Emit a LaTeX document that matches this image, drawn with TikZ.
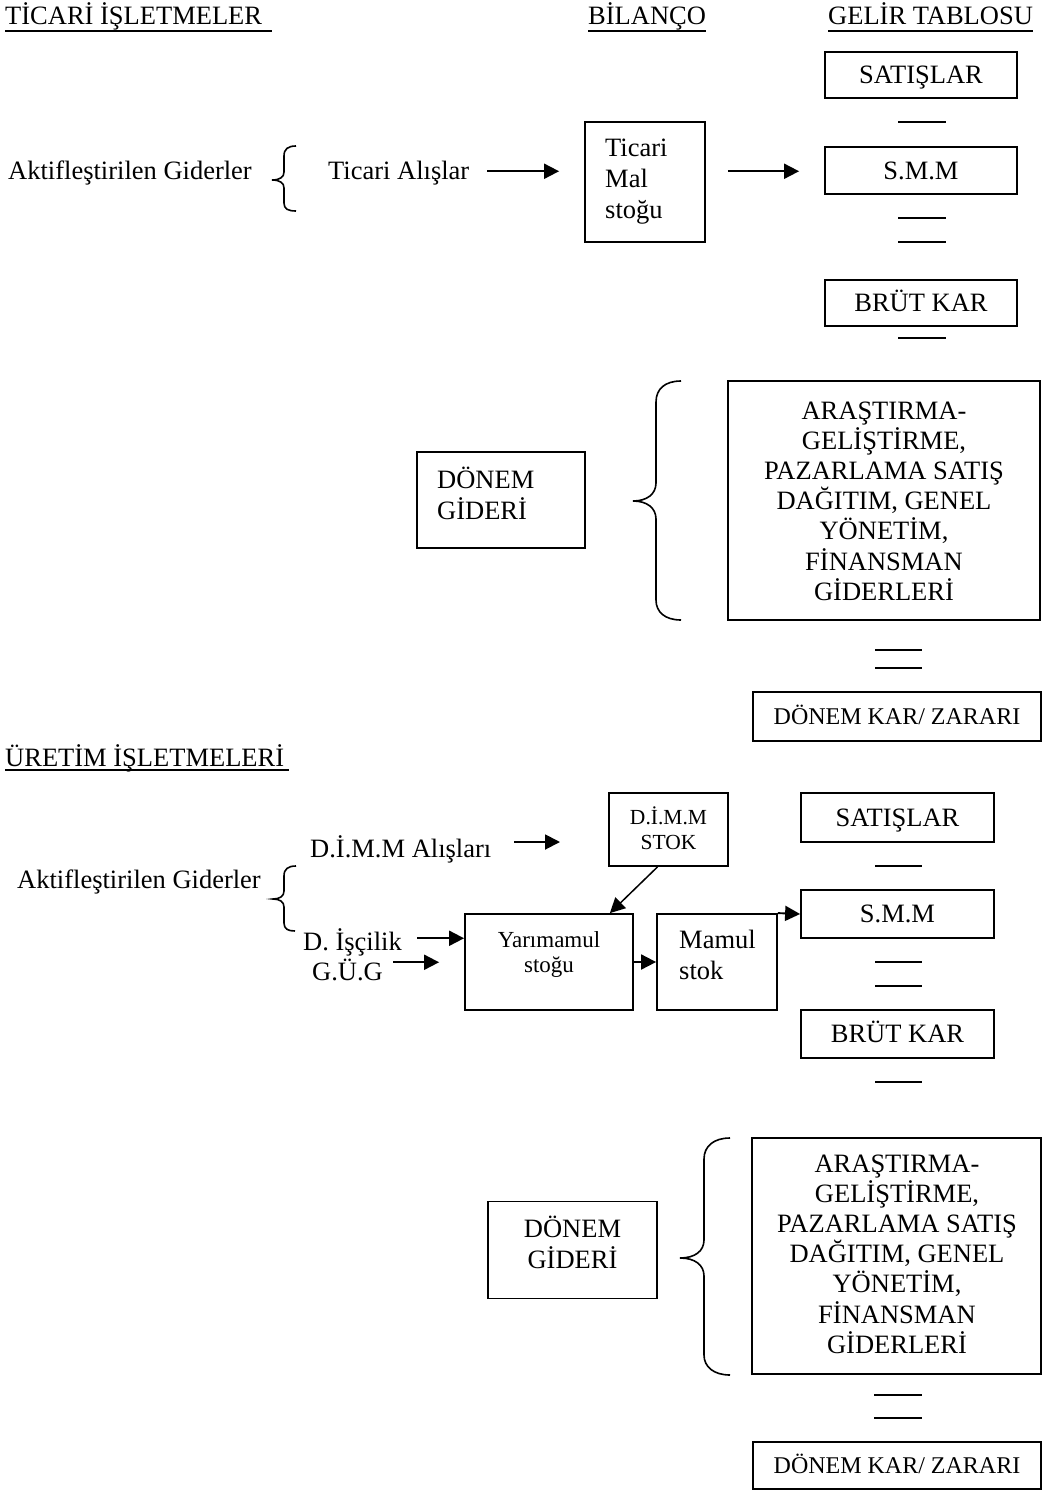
\documentclass[tikz,border=0pt]{standalone}
\usepackage{fontspec}
\setmainfont{Liberation Serif}
\usetikzlibrary{arrows.meta,calc}
% stacked lines: left aligned / centred, baseline at the first line
\newcommand\linesL[1]{\vtop{\halign{##\hfil\cr #1\crcr}}}
\newcommand\linesC[1]{\vtop{\halign{\hfil##\hfil\cr #1\crcr}}}
\begin{document}
\begin{tikzpicture}[x=1pt,y=-1pt,
  big/.style={font=\fontsize{26.5}{31}\selectfont},
  lbl/.style={big, inner sep=0pt, anchor=base west, text height=17.5pt, text depth=0pt},
  para/.style={big, inner sep=0pt, anchor=base west},
  cpara/.style={big, inner sep=0pt, anchor=base},
  box/.style={draw, line width=1.8pt, inner sep=0pt},
  tbox/.style={box, big, text height=17.5pt, text depth=0pt},
  small/.style={font=\fontsize{24}{28}\selectfont, text height=16pt},
  sized/.style 2 args={minimum width=#1pt, minimum height=#2pt},
  arr/.style={line width=1.9pt, -{Triangle[length=15pt,width=15pt]}},
  rule/.style={line width=1.8pt},
  brace/.style={line width=1.6pt},
  uline/.style={line width=1.8pt}
]
\fill[white] (0,0) rectangle (1043,1490);
\useasboundingbox (0,0) rectangle (1043,1490);

% ---------- headings ----------
\node[lbl] (h1) at (5,25) {TİCARİ İŞLETMELER};
\node[lbl] (h2) at (588,25) {BİLANÇO};
\node[lbl] (h3) at (828,25) {GELİR TABLOSU};
\draw[uline] ([yshift=-6pt]h1.base west) -- ([xshift=10pt,yshift=-6pt]h1.base east);
\draw[uline] ([yshift=-6pt]h2.base west) -- ([yshift=-6pt]h2.base east);
\draw[uline] ([yshift=-6pt]h3.base west) -- ([yshift=-6pt]h3.base east);

% ---------- trading firms ----------
\node[tbox, sized={192}{46}] (sat1) at (921,75) {SATIŞLAR};
\node[tbox, sized={192}{47}] (smm1) at (921,170.5) {S.M.M};
\node[tbox, sized={192}{46}] (brut1) at (921,303) {BRÜT KAR};
\draw[rule] (898,122) -- (946,122);
\draw[rule] (898,218) -- (946,218);
\draw[rule] (898,242) -- (946,242);
\draw[rule] (898,338) -- (946,338);

\node[box, sized={120}{120}] (mal1) at (645,182) {};
\node[para] (mal1t) at (605,157) {\linesL{Ticari\cr Mal\cr stoğu}};

\node[lbl] (akt1) at (8,180) {Aktifleştirilen Giderler};
\draw[brace] (296,146) .. controls (288,146) and (284,149) .. (284,156) -- (284,172)
  .. controls (284,177) and (280,180) .. (272,180)
  .. controls (280,180) and (284,183) .. (284,188) -- (284,203)
  .. controls (284,209) and (288,211) .. (296,211);
\node[lbl] (alis1) at (328,180) {Ticari Alışlar};
\draw[arr] ($(alis1.east)+(18,0)$) -- ($(alis1.east -| mal1.west)+(-25,0)$);
\draw[arr] ($(mal1.east |- alis1.east)+(22,0)$) -- ($(alis1.east -| smm1.west)+(-25,0)$);

\node[box, sized={168}{96}] (dg1) at (501,500) {};
\node[para] (dg1t) at (437,488) {\linesL{DÖNEM\cr GİDERİ}};
\draw[brace] (681,381) .. controls (665,381) and (656,389) .. (656,402) -- (656,483)
  .. controls (656,494) and (647,501) .. (633,501)
  .. controls (647,501) and (656,508) .. (656,519) -- (656,600)
  .. controls (656,612) and (665,620) .. (681,620);
\node[box, sized={312}{239}] (ag1) at (884,500.5) {};
\node[cpara, font=\fontsize{26.5}{30.2}\selectfont] (ag1t) at (884,419)
  {\linesC{ARAŞTIRMA-\cr GELİŞTİRME,\cr PAZARLAMA SATIŞ\cr DAĞITIM, GENEL\cr YÖNETİM,\cr FİNANSMAN\cr GİDERLERİ}};
\draw[rule] (875,650) -- (922,650);
\draw[rule] (875,668) -- (922,668);
\node[tbox, small, sized={288}{49}] (dkz1) at (897,716.5) {DÖNEM KAR/ ZARARI};

% ---------- manufacturing firms ----------
\node[lbl] (h4) at (5,766) {ÜRETİM İŞLETMELERİ};
\draw[uline] ([yshift=-4pt]h4.base west) -- ([xshift=5pt,yshift=-4pt]h4.base east);

\node[box, sized={119}{73}] (dimm2) at (668.5,829.5) {};
\node[cpara, font=\fontsize{21.5}{25}\selectfont] (dimm2t) at (668.5,824) {\linesC{D.İ.M.M\cr STOK}};
\node[tbox, sized={193}{49}] (sat2) at (897.5,817.5) {SATIŞLAR};
\node[tbox, sized={193}{48}] (smm2) at (897.5,914) {S.M.M};
\node[tbox, sized={193}{48}] (brut2) at (897.5,1034) {BRÜT KAR};
\draw[rule] (875,866) -- (922,866);
\draw[rule] (875,962) -- (922,962);
\draw[rule] (875,986) -- (922,986);
\draw[rule] (875,1082) -- (922,1082);

\node[lbl] (dalis) at (310,857) {D.İ.M.M Alışları};
\coordinate (dimmin) at (560,842);
\draw[arr] (dimmin -| dalis.east) ++(23,0) -- (dimmin);

\node[lbl] (akt2) at (17,888) {Aktifleştirilen Giderler};
\draw[brace] (296,866) .. controls (288,866) and (284,869) .. (284,876) -- (284,891)
  .. controls (284,896) and (280,899) .. (273,899)
  .. controls (280,899) and (284,902) .. (284,907) -- (284,923)
  .. controls (284,929) and (288,931) .. (295,931);
\node[lbl] (isc) at (303,950) {D. İşçilik};
\node[lbl] (gug) at (312,980) {G.Ü.G};

\node[box, sized={168}{96}] (yar) at (549,962) {};
\node[cpara, font=\fontsize{23}{25}\selectfont] (yart) at (549,947) {\linesC{Yarımamul\cr stoğu}};
\node[box, sized={120}{96}] (mam) at (717,962) {};
\node[para] (mamt) at (679,948) {\linesL{Mamul\cr stok}};

\path (isc.east) ++(15,-3) coordinate (iscA);
\draw[arr] (iscA) -- (iscA -| yar.west);
\path (gug.east) ++(10,-9) coordinate (gugA);
\draw[arr] (gugA) -- ($(gugA -| yar.west)+(-25,0)$);
\draw[arr] (yar) -- (mam);
\draw[arr] (mam.north east) -- (smm2.west);
\draw[arr, line width=1.5pt] ($(dimm2.south)+(-11,0)$) -- ($(yar.north east)+(-24,0)$);

\node[box, sized={169}{97}] (dg2) at (572.5,1250) {};
\node[cpara] (dg2t) at (572.5,1237) {\linesC{DÖNEM\cr GİDERİ}};
\draw[brace] (730,1138) .. controls (714,1138) and (704,1146) .. (704,1159) -- (704,1240)
  .. controls (704,1251) and (695,1258) .. (680,1258)
  .. controls (695,1258) and (704,1265) .. (704,1276) -- (704,1355)
  .. controls (704,1367) and (714,1375) .. (730,1375);
\node[box, sized={289}{236}] (ag2) at (896.5,1256) {};
\node[cpara, font=\fontsize{26.5}{30.2}\selectfont] (ag2t) at (897,1172)
  {\linesC{ARAŞTIRMA-\cr GELİŞTİRME,\cr PAZARLAMA SATIŞ\cr DAĞITIM, GENEL\cr YÖNETİM,\cr FİNANSMAN\cr GİDERLERİ}};
\draw[rule] (874,1395) -- (922,1395);
\draw[rule] (874,1418) -- (922,1418);
\node[tbox, small, sized={288}{47}] (dkz2) at (897,1465.5) {DÖNEM KAR/ ZARARI};
\end{tikzpicture}
\end{document}
